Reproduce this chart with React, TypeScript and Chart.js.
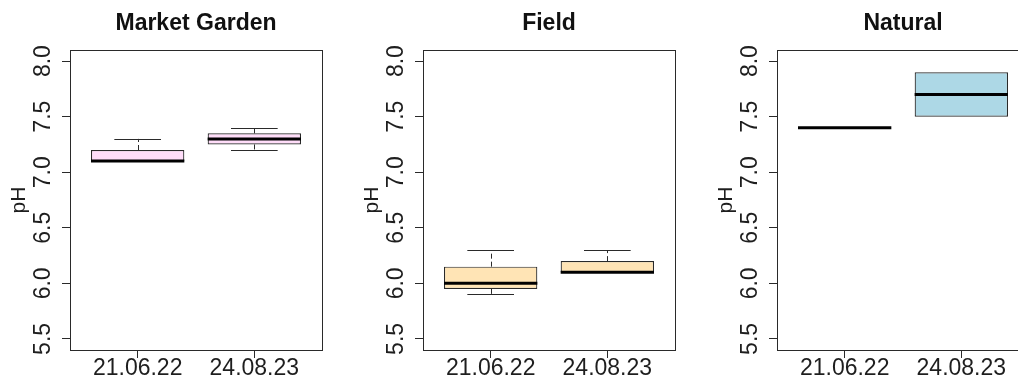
import React, { useEffect, useRef } from "react";
import { Chart, registerables } from "chart.js";

Chart.register(...registerables);

// ---- data ----
const dates = ["21.06.22", "24.08.23"];
const panelTitles = ["Market Garden", "Field", "Natural"];
const yTicks = [5.5, 6.0, 6.5, 7.0, 7.5, 8.0];
const yAxisTitle = "pH";

// five-number summaries per sampling date: [min, q1, median, q3, max]
const marketGarden2022 = [7.1, 7.1, 7.1, 7.2, 7.3];
const marketGarden2023 = [7.2, 7.25, 7.3, 7.35, 7.4];
const field2022 = [5.9, 5.95, 6.0, 6.15, 6.3];
const field2023 = [6.1, 6.1, 6.1, 6.2, 6.3];
const natural2022 = [7.4, 7.4, 7.4, 7.4, 7.4];
const natural2023 = [7.5, 7.5, 7.7, 7.9, 7.9];

const panelStats = [
  [marketGarden2022, marketGarden2023],
  [field2022, field2023],
  [natural2022, natural2023],
];
const panelColors = ["#FFDDF9", "#FFE4B5", "#ADD8E6"];

// ---- styling / layout ----
const FONT = "'Liberation Sans', Arial, Helvetica, sans-serif";
const INK = "#1e1e1e";
const LINE = "#2a2a2a";
const PANEL_W = 353;
const PANEL_H = 381;
const PANEL_LEFTS = [0, 353, 707];
const BOX_HALF = 0.4;
const STAPLE_HALF = 0.2;

const boxExtras = {
  id: "boxExtras",
  afterDatasetsDraw(chart: any, _args: any, opts: any) {
    const { ctx, scales, chartArea } = chart;
    const xs = scales.x;
    const ys = scales.y;
    const stats: number[][] = opts.stats || [];
    const seg = (x1: number, y1: number, x2: number, y2: number) => {
      ctx.beginPath();
      ctx.moveTo(x1, y1);
      ctx.lineTo(x2, y2);
      ctx.stroke();
    };
    ctx.save();
    ctx.strokeStyle = LINE;
    stats.forEach((s, i) => {
      const xv = i + 1;
      const [mn, q1, med, q3, mx] = s;
      const px = Math.round(xs.getPixelForValue(xv)) + 0.5;
      ctx.lineWidth = 1;
      ctx.setLineDash([5, 3]);
      if (mx > q3) seg(px, ys.getPixelForValue(q3), px, ys.getPixelForValue(mx));
      if (mn < q1) seg(px, ys.getPixelForValue(q1), px, ys.getPixelForValue(mn));
      ctx.setLineDash([]);
      const sx1 = xs.getPixelForValue(xv - STAPLE_HALF);
      const sx2 = xs.getPixelForValue(xv + STAPLE_HALF);
      const ymx = Math.round(ys.getPixelForValue(mx)) + 0.5;
      const ymn = Math.round(ys.getPixelForValue(mn)) + 0.5;
      if (mx > q3) seg(sx1, ymx, sx2, ymx);
      if (mn < q1) seg(sx1, ymn, sx2, ymn);
      ctx.lineWidth = 3;
      ctx.strokeStyle = "#000";
      const ym = ys.getPixelForValue(med);
      seg(xs.getPixelForValue(xv - BOX_HALF), ym, xs.getPixelForValue(xv + BOX_HALF), ym);
      ctx.strokeStyle = LINE;
    });
    // frame (box())
    ctx.lineWidth = 1;
    ctx.strokeStyle = LINE;
    ctx.strokeRect(
      Math.round(chartArea.left) + 0.5,
      Math.round(chartArea.top) + 0.5,
      Math.round(chartArea.right - chartArea.left),
      Math.round(chartArea.bottom - chartArea.top)
    );
    ctx.restore();
  },
};

function makeConfig(p: number): any {
  const stats = panelStats[p];
  return {
    type: "bar",
    data: {
      datasets: [
        {
          data: stats.map((s, i) => ({ x: i + 1, y: [s[1], s[3]] })),
          backgroundColor: panelColors[p],
          borderColor: LINE,
          borderWidth: 1.2,
          borderSkipped: false,
          barPercentage: 1,
          categoryPercentage: 0.8,
        },
      ],
    },
    options: {
      responsive: false,
      animation: false,
      events: [],
      layout: { padding: { left: 0, right: PANEL_W - 322, top: 0, bottom: 0 } },
      plugins: {
        legend: { display: false },
        tooltip: { enabled: false },
        title: {
          display: true,
          text: panelTitles[p],
          fullSize: false,
          color: "#111",
          font: { family: FONT, size: 23, weight: "bold", lineHeight: 1.2 },
          padding: { top: 9.5, bottom: 12.9 },
        },
        boxExtras: { stats },
      },
      scales: {
        x: {
          type: "linear",
          min: 0.42,
          max: 2.58,
          offset: false,
          grid: {
            offset: false,
            drawOnChartArea: false,
            drawTicks: true,
            tickLength: 8,
            color: LINE,
          },
          border: { display: false },
          afterBuildTicks: (scale: any) => {
            scale.ticks = dates.map((_, i) => ({ value: i + 1 }));
          },
          afterFit: (scale: any) => {
            scale.height = 31;
          },
          ticks: {
            autoSkip: false,
            minRotation: 0,
            maxRotation: 0,
            padding: -3,
            color: INK,
            font: { family: FONT, size: 23 },
            callback: (v: number) => dates[Math.round(v) - 1],
          },
        },
        y: {
          type: "linear",
          min: 5.4,
          max: 8.1,
          beginAtZero: false,
          grid: {
            drawOnChartArea: false,
            drawTicks: true,
            tickLength: 8,
            color: LINE,
          },
          border: { display: false },
          afterBuildTicks: (scale: any) => {
            scale.ticks = yTicks.map((v) => ({ value: v }));
          },
          afterFit: (scale: any) => {
            scale.width = 70;
          },
          title: {
            display: true,
            text: yAxisTitle,
            color: INK,
            font: { family: FONT, size: 21, lineHeight: 1.2 },
            padding: { top: 6.5, bottom: 0 },
          },
          ticks: {
            autoSkip: false,
            minRotation: 90,
            maxRotation: 90,
            crossAlign: "center",
            padding: 2,
            color: INK,
            font: { family: FONT, size: 23 },
            callback: (v: number) => Number(v).toFixed(1),
          },
        },
      },
    },
    plugins: [boxExtras],
  };
}

export default function App() {
  const refs = [useRef<HTMLCanvasElement>(null), useRef<HTMLCanvasElement>(null), useRef<HTMLCanvasElement>(null)];

  useEffect(() => {
    const charts: Chart[] = [];
    refs.forEach((r, p) => {
      if (r.current) charts.push(new Chart(r.current, makeConfig(p)));
    });
    return () => charts.forEach((c) => c.destroy());
  }, []);

  return (
    <div
      style={{
        position: "fixed",
        left: 0,
        top: 0,
        width: 1018,
        height: 381,
        overflow: "hidden",
        background: "#fff",
      }}
    >
      {PANEL_LEFTS.map((left, p) => (
        <canvas
          key={p}
          ref={refs[p]}
          width={PANEL_W}
          height={PANEL_H}
          style={{ position: "absolute", left, top: 0, width: PANEL_W, height: PANEL_H }}
        />
      ))}
    </div>
  );
}
